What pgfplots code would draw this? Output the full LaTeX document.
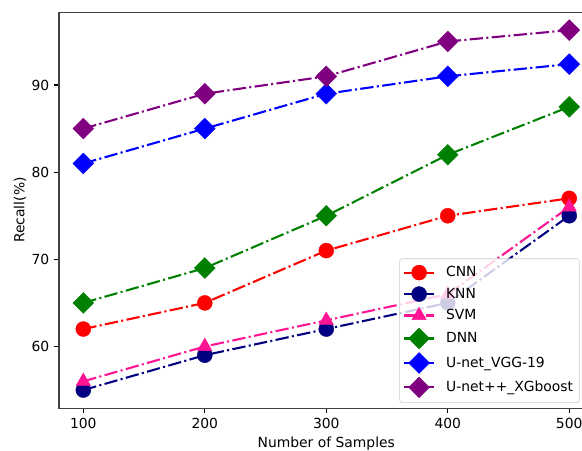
\documentclass[border=0pt]{standalone}
\usepackage{fontspec}
\setmainfont{DejaVu Sans}
\usepackage{pgfplots}
\pgfplotsset{compat=1.18}

\definecolor{mpurple}{HTML}{800080}
\definecolor{mpink}{HTML}{FF1493}
\definecolor{mnavy}{HTML}{000080}
\definecolor{mgreen}{HTML}{008000}

\tikzset{dd/.style={dash pattern=on 9.6pt off 2.4pt on 1.5pt off 2.4pt}}
\pgfplotsset{
  circ/.style={color=#1, mark=*, mark size=5.4pt,
      mark options={solid, fill=#1, draw=#1, line width=0.3pt}},
  tri/.style={color=#1, mark=triangle*, mark size=6pt,
      mark options={solid, fill=#1, draw=#1, line width=0.3pt}},
  dia/.style={color=#1, mark=square*, mark size=5.3pt,
      mark options={solid, rotate=45, fill=#1, draw=#1, line width=0.3pt}},
}

\begin{document}
\begin{tikzpicture}
\begin{axis}[
    scale only axis,
    width=384.8pt, height=285.1pt,
    xmin=80, xmax=520, ymin=52.93, ymax=98.37,
    xtick={100,200,300,400,500},
    ytick={60,70,80,90},
    tick align=outside,
    xtick pos=left, ytick pos=left,
    major tick length=3.5pt,
    tick style={black, line width=0.8pt},
    axis line style={line width=0.8pt, black!75},
    font=\fontsize{10pt}{12pt}\selectfont,
    /pgf/number format/assume math mode=true,
    xlabel={Number of Samples},
    xlabel style={yshift=0.5pt},
    ylabel={Recall(\%)},
    ylabel style={yshift=-3pt},
    legend style={at={(0.974,0.013)}, anchor=south east, draw=black!20,
        fill=white, fill opacity=0.8, text opacity=1, rounded corners=2pt,
        row sep=2.6pt, inner xsep=2.5pt, inner ysep=3.5pt},
    legend cell align=left,
    legend image code/.code={\draw[mark repeat=2,mark phase=2,fill opacity=1,draw opacity=1] plot coordinates {(0pt,0pt)(10.8pt,0pt)(21.6pt,0pt)};
        \path (27.5pt,0pt);},
    every axis plot/.append style={line width=1.5pt, dd},
]
\coordinate (O) at (rel axis cs:0,0);

\addplot[circ=red] coordinates {
    (100,62) (200,65) (300,71) (400,75) (500,77)};
\addlegendentry{CNN}

\addplot[circ=mnavy] coordinates {
    (100,55) (200,59) (300,62) (400,65) (500,75)};
\addlegendentry{KNN}

\addplot[tri=mpink] coordinates {
    (100,56) (200,60) (300,63) (400,66) (500,76)};
\addlegendentry{SVM}

\addplot[dia=mgreen] coordinates {
    (100,65) (200,69) (300,75) (400,82) (500,87.5)};
\addlegendentry{DNN}

\addplot[dia=blue] coordinates {
    (100,81) (200,85) (300,89) (400,91) (500,92.4)};
\addlegendentry{U-net\_VGG-19}

\addplot[dia=mpurple] coordinates {
    (100,85) (200,89) (300,91) (400,95) (500,96.3)};
\addlegendentry{U-net++\_XGboost}
\end{axis}
\pgfresetboundingbox
\path[use as bounding box] ([shift={(-42.5pt,-30.2pt)}]O) rectangle ++(419pt,324pt);
\end{tikzpicture}
\end{document}
